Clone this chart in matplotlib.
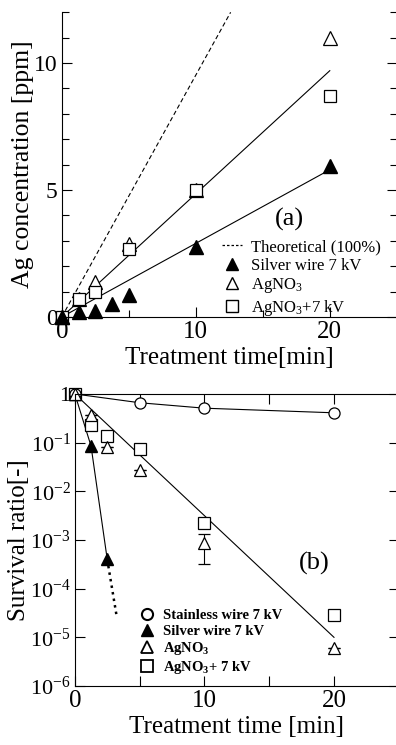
import matplotlib
matplotlib.use("Agg")
import matplotlib.pyplot as plt
from matplotlib.lines import Line2D
from matplotlib.ticker import MultipleLocator, FixedLocator

plt.rcParams["font.family"] = ["Liberation Serif", "DejaVu Serif"]
plt.rcParams["mathtext.fontset"] = "custom"
plt.rcParams["mathtext.rm"] = "Liberation Serif"
plt.rcParams["mathtext.it"] = "Liberation Serif:italic"
plt.rcParams["mathtext.bf"] = "Liberation Serif:bold"

# ── panel (a): Ag concentration ─────────────────────────────────────────────
t_silver_a = [0, 1.25, 2.5, 3.75, 5, 10, 20]
c_silver_a = [0, 0.2, 0.23, 0.5, 0.87, 2.77, 5.94]
t_agno3_a = [0, 1.25, 2.5, 5, 10, 20]
c_agno3_a = [0, 0.7, 1.37, 2.87, 5.0, 11.0]
t_mix_a = [0, 1.25, 2.5, 5, 10, 20]
c_mix_a = [0, 0.7, 0.98, 2.68, 5.0, 8.7]
fit_t_a = [0, 20]
fit_mix_a = [0, 9.7]
fit_silver_a = [0, 5.8]
theo_t = [0, 12.6]
theo_c = [0, 12.0]

# ── panel (b): survival ratio ───────────────────────────────────────────────
t_stain_b = [0, 5, 10, 20]
s_stain_b = [1.0, 0.66, 0.51, 0.41]
t_silver_b = [0, 1.25, 2.5]
s_silver_b = [1.0, 0.085, 4e-4]
t_silver_ext = [2.5, 3.2]
s_silver_ext = [4e-4, 3e-5]
t_agno3_b = [0, 1.25, 2.5, 5, 10, 20]
s_agno3_b = [1.0, 0.37, 0.083, 0.027, 8.5e-4, 5.9e-6]
err_lo_b = [0, 0, 0, 0, 8.5e-4 - 3.2e-4, 0]
err_hi_b = [0, 0, 0, 0, 1.3e-3 - 8.5e-4, 0]
t_mix_b = [0, 1.25, 2.5, 5, 10, 20]
s_mix_b = [1.0, 0.23, 0.14, 0.074, 2.2e-3, 2.9e-5]
fit_t_b = [0, 20]
fit_s_b = [1.0, 1e-5]
ytick_b = [1, 1e-1, 1e-2, 1e-3, 1e-4, 1e-5, 1e-6]
ytick_lbl_b = ["1"] + [r"$10^{-%d}$" % k for k in range(1, 7)]

fig = plt.figure(figsize=(3.96, 7.45), dpi=100)

# ── (a) ─────────────────────────────────────────────────────────────────────
ax1 = fig.add_axes([0.156, 0.5745, 0.846, 0.409])
ax1.plot(theo_t, theo_c, "k--", lw=0.8, dashes=(4, 2.5))
ax1.plot(fit_t_a, fit_mix_a, "k-", lw=0.8)
ax1.plot(fit_t_a, fit_silver_a, "k-", lw=0.8)
ax1.plot(t_agno3_a, c_agno3_a, "^", ms=10, mfc="white", mec="k", mew=0.9, ls="none", clip_on=False)
ax1.plot(t_mix_a, c_mix_a, "s", ms=8.5, mfc="white", mec="k", mew=0.9, ls="none", clip_on=False)
ax1.plot(t_silver_a, c_silver_a, "^", ms=10, mfc="k", mec="k", ls="none", clip_on=False)
ax1.set_xlim(0, 25)
ax1.set_ylim(0, 12)
ax1.xaxis.set_major_locator(FixedLocator([0, 10, 20]))
ax1.xaxis.set_minor_locator(FixedLocator([5, 15]))
ax1.yaxis.set_major_locator(FixedLocator([0, 5, 10]))
ax1.yaxis.set_minor_locator(MultipleLocator(1))
ax1.tick_params(which="both", direction="in", right=True, width=0.8)
ax1.tick_params(which="major", length=7, pad=3)
ax1.tick_params(which="minor", length=5)
ax1.tick_params(axis="x", labelsize=18)
ax1.tick_params(axis="y", labelsize=17)
ax1.spines["top"].set_visible(False)
ax1.spines["right"].set_visible(False)
ax1.set_xlabel("Treatment time[min]", fontsize=18, labelpad=3)
ax1.set_ylabel("Ag concentration [ppm]", fontsize=18.5, labelpad=0)
ax1.text(0.68, 0.32, "(a)", transform=ax1.transAxes, fontsize=19, ha="center", va="center")
h_a = [
    Line2D([], [], color="k", ls="--", lw=0.9, dashes=(2, 1.6)),
    Line2D([], [], marker="^", ms=9, mfc="k", mec="k", ls="none"),
    Line2D([], [], marker="^", ms=9, mfc="white", mec="k", ls="none"),
    Line2D([], [], marker="s", ms=8, mfc="white", mec="k", ls="none"),
]
ax1.legend(h_a, ["Theoretical (100%)", "Silver wire 7 kV", r"AgNO$_3$", r"AgNO$_3$+7 kV"],
           loc="upper left", bbox_to_anchor=(0.54, 0.69), bbox_transform=fig.transFigure,
           frameon=False, fontsize=12, handlelength=1.2, handletextpad=0.5,
           labelspacing=0.15, borderpad=0)

# ── (b) ─────────────────────────────────────────────────────────────────────
ax2 = fig.add_axes([0.189, 0.0792, 0.818, 0.392])
ax2.plot(t_stain_b, s_stain_b, "k-", lw=0.8)
ax2.plot(fit_t_b, fit_s_b, "k-", lw=0.8)
ax2.plot(t_silver_b, s_silver_b, "k-", lw=0.8)
ax2.plot(t_silver_ext, s_silver_ext, "k:", lw=1.8)
ax2.errorbar(t_agno3_b, s_agno3_b, yerr=[err_lo_b, err_hi_b], fmt="^", ms=9,
             mfc="white", mec="k", mew=0.9, ecolor="k", elinewidth=0.8, capsize=4, clip_on=False)
ax2.plot(t_mix_b, s_mix_b, "s", ms=9, mfc="white", mec="k", mew=0.9, ls="none", clip_on=False)
ax2.plot(t_silver_b, s_silver_b, "^", ms=9, mfc="k", mec="k", ls="none", clip_on=False)
ax2.plot(t_stain_b, s_stain_b, "o", ms=8, mfc="white", mec="k", mew=0.9, ls="none", clip_on=False)
ax2.set_yscale("log")
ax2.set_xlim(0, 25)
ax2.set_ylim(1e-6, 1)
ax2.yaxis.set_major_locator(FixedLocator(ytick_b))
ax2.yaxis.set_minor_locator(FixedLocator([]))
ax2.set_yticklabels(ytick_lbl_b)
ax2.xaxis.set_major_locator(FixedLocator([0, 10, 20]))
ax2.xaxis.set_minor_locator(FixedLocator([5, 15]))
ax2.tick_params(which="both", direction="in", right=True, top=True, width=0.8)
ax2.tick_params(which="major", length=7, pad=3)
ax2.tick_params(which="minor", length=7)
ax2.tick_params(axis="x", labelsize=18)
ax2.tick_params(axis="y", labelsize=16)
ax2.spines["right"].set_visible(False)
ax2.set_xlabel("Treatment time [min]", fontsize=18, labelpad=3)
ax2.set_ylabel("Survival ratio[-]", fontsize=18, labelpad=0)
ax2.text(0.74, 0.42, "(b)", transform=ax2.transAxes, fontsize=19, ha="center", va="center")
h_b = [
    Line2D([], [], marker="o", ms=8, mfc="white", mec="k", mew=1.5, ls="none"),
    Line2D([], [], marker="^", ms=8, mfc="k", mec="k", ls="none"),
    Line2D([], [], marker="^", ms=8, mfc="white", mec="k", mew=1.3, ls="none"),
    Line2D([], [], marker="s", ms=8, mfc="white", mec="k", mew=1.3, ls="none"),
]
ax2.legend(h_b, ["Stainless wire 7 kV", "Silver wire 7 kV", r"AgNO$_\mathbf{3}$", r"AgNO$_\mathbf{3}$+ 7 kV"],
           loc="upper left", bbox_to_anchor=(0.335, 0.192), bbox_transform=fig.transFigure,
           frameon=False, prop={"size": 10.5, "weight": "bold"}, handlelength=1.0,
           handletextpad=0.6, labelspacing=0.15, borderpad=0)

fig.savefig("out.png", dpi=100)
